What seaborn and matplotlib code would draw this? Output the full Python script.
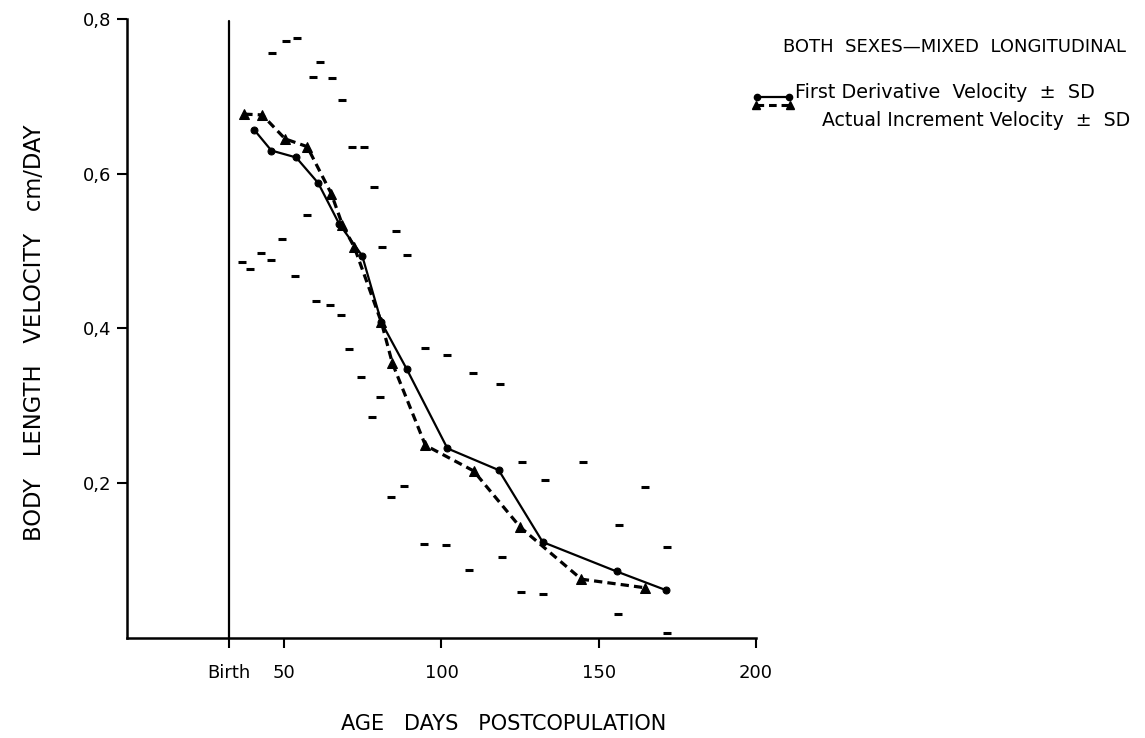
import matplotlib
matplotlib.use("Agg")
import matplotlib.pyplot as plt
from matplotlib.lines import Line2D
import seaborn as sns
import pandas as pd

# ---- data ----
birth_day = 32.4

first_deriv_x = [40.4, 45.9, 53.8, 60.8, 67.5, 74.8, 80.9, 88.9, 101.9, 118.2, 132.2, 155.7, 171.3]
first_deriv_y = [0.657, 0.630, 0.621, 0.588, 0.535, 0.494, 0.408, 0.348, 0.245, 0.217, 0.124, 0.086, 0.062]

actual_inc_x = [37.3, 43.0, 50.3, 57.3, 65.0, 68.5, 72.3, 80.9, 84.4, 94.9, 110.2, 125.1, 144.5, 164.6]
actual_inc_y = [0.677, 0.676, 0.645, 0.635, 0.574, 0.534, 0.505, 0.408, 0.355, 0.249, 0.216, 0.143, 0.076, 0.065]

sd_x = [46.2, 50.6, 54.0, 61.5, 59.0, 65.2, 68.5, 71.7, 75.5, 78.7, 85.4, 81.2, 57.4, 49.4,
        36.6, 39.2, 42.7, 45.9, 53.5, 60.2, 64.6, 68.2, 70.7, 74.5, 80.6, 78.0, 89.2,
        94.9, 101.9, 109.9, 118.5, 125.5, 144.9, 132.8, 164.6, 156.4, 171.6, 88.2, 83.8,
        94.3, 101.3, 119.1, 108.9, 125.2, 132.2, 156.0, 171.6]
sd_y = [0.756, 0.772, 0.775, 0.744, 0.725, 0.724, 0.695, 0.635, 0.635, 0.583, 0.526, 0.505, 0.547, 0.516,
        0.486, 0.477, 0.498, 0.489, 0.468, 0.436, 0.430, 0.417, 0.374, 0.337, 0.312, 0.285, 0.495,
        0.375, 0.366, 0.343, 0.328, 0.227, 0.227, 0.204, 0.195, 0.146, 0.117, 0.197, 0.182,
        0.122, 0.120, 0.105, 0.088, 0.059, 0.057, 0.031, 0.007]

x_ticks = [birth_day, 50, 100, 150, 200]
x_ticklabels = ["Birth", "50", "100", "150", "200"]
y_ticks = [0.2, 0.4, 0.6, 0.8]
y_ticklabels = ["0,2", "0,4", "0,6", "0,8"]

title_text = "BOTH  SEXES\u2014MIXED  LONGITUDINAL"
legend_labels = ["First Derivative  Velocity  \u00b1  SD", "Actual Increment Velocity  \u00b1  SD"]

# ---- drawing ----
sns.set_style("ticks")
plt.rcParams["font.family"] = ["DejaVu Sans"]
plt.rcParams["text.color"] = "black"

fig = plt.figure(figsize=(11.45, 7.38), dpi=100)
ax = fig.add_axes([0.1109, 0.1355, 0.5493, 0.8388])

df1 = pd.DataFrame({"x": first_deriv_x, "y": first_deriv_y})
df2 = pd.DataFrame({"x": actual_inc_x, "y": actual_inc_y})
dsd = pd.DataFrame({"x": sd_x, "y": sd_y})

sns.lineplot(data=df1, x="x", y="y", ax=ax, color="black", linewidth=1.6,
             marker="o", markersize=5, markeredgecolor="black", sort=False)
sns.lineplot(data=df2, x="x", y="y", ax=ax, color="black", linewidth=2.3,
             linestyle=(0, (2.6, 1.6)), marker="^", markersize=7,
             markeredgecolor="black", sort=False)
sns.scatterplot(data=dsd, x="x", y="y", ax=ax, marker="_", s=30,
                color="black", linewidth=2.2)

ax.axvline(birth_day, ymin=0, ymax=0.997, color="black", linewidth=1.6)

ax.set_xlim(0, 200)
ax.set_ylim(0, 0.8)
ax.set_xticks(x_ticks)
ax.set_xticklabels(x_ticklabels)
ax.set_yticks(y_ticks)
ax.set_yticklabels(y_ticklabels)
ax.tick_params(axis="both", direction="out", length=7, width=1.5, colors="black",
               labelsize=13)
ax.tick_params(axis="x", pad=12)
ax.tick_params(axis="y", pad=4)
sns.despine(ax=ax)
for sp in ("left", "bottom"):
    ax.spines[sp].set_linewidth(1.8)
    ax.spines[sp].set_color("black")

ax.set_xlabel("")
ax.set_ylabel("")
fig.text(35 / 1145, 1 - 333 / 738, "BODY   LENGTH   VELOCITY   cm/DAY", rotation=90,
         ha="center", va="center", fontsize=16.3, color="black")
fig.text(504 / 1145, 1 - 724 / 738, "AGE   DAYS   POSTCOPULATION",
         ha="center", va="center", fontsize=15, color="black")

# ---- legend block (top right) ----
fig.text(783 / 1145, 1 - 47 / 738, title_text, ha="left", va="center", fontsize=13,
         color="black")
fig.add_artist(Line2D([757 / 1145, 789 / 1145], [1 - 97 / 738, 1 - 97 / 738],
                      transform=fig.transFigure, color="black", linewidth=1.6,
                      marker="o", markersize=4.5))
fig.text(795 / 1145, 1 - 93 / 738, legend_labels[0], ha="left", va="center", fontsize=13.8,
         color="black")
fig.add_artist(Line2D([756 / 1145, 790 / 1145], [1 - 105 / 738, 1 - 105 / 738],
                      transform=fig.transFigure, color="black", linewidth=2.2,
                      linestyle=(0, (2.5, 1.6)), marker="^", markersize=6))
fig.text(822 / 1145, 1 - 120 / 738, legend_labels[1], ha="left", va="center", fontsize=13.6,
         color="black")

fig.savefig("out.png", dpi=100, facecolor="white")
